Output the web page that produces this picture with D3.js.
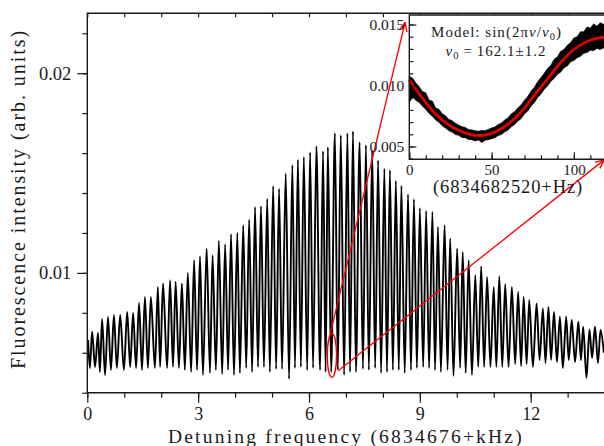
<!DOCTYPE html>
<html>
<head>
<meta charset="utf-8">
<script src="https://cdn.jsdelivr.net/npm/d3@7"></script>
<style>
  body { margin: 0; background: #fff; }
  text { font-family: "Liberation Serif", "DejaVu Serif", serif; fill: #1a1a1a; }
</style>
</head>
<body>
<svg id="chart" width="604" height="446"></svg>
<script>
// ---- main trace: fringe maxima and minima ----
var peakKHz = [0.02,0.13,0.29,0.40,0.56,0.72,0.89,1.08,1.24,1.40,
  1.56,1.72,1.91,2.05,2.24,2.39,2.56,2.72,2.89,3.05,
  3.23,3.39,3.56,3.73,3.89,4.06,4.22,4.38,4.54,4.70,
  4.87,5.03,5.19,5.37,5.55,5.70,5.86,6.03,6.20,6.38,
  6.51,6.70,6.86,7.04,7.19,7.37,7.54,7.71,7.87,8.04,
  8.19,8.35,8.50,8.68,8.84,9.00,9.17,9.34,9.49,9.67,
  9.82,10.01,10.16,10.32,10.50,10.66,10.82,11.00,11.15,11.31,
  11.49,11.66,11.81,11.96,12.16,12.33,12.48,12.63,12.79,12.96,
  13.11,13.29,13.42,13.59,13.74,13.89];
var peakVal = [0.00664,0.00705,0.00699,0.00769,0.00779,0.00789,0.00789,0.00805,0.00800,0.00849,
  0.00879,0.00879,0.00930,0.00947,0.00964,0.00956,0.00947,0.01000,0.01064,0.01084,
  0.01122,0.01089,0.01160,0.01144,0.01194,0.01200,0.01239,0.01267,0.01330,0.01334,
  0.01372,0.01434,0.01422,0.01497,0.01539,0.01567,0.01580,0.01604,0.01634,0.01610,
  0.01629,0.01700,0.01689,0.01699,0.01709,0.01655,0.01639,0.01614,0.01564,0.01522,
  0.01514,0.01460,0.01436,0.01394,0.01369,0.01324,0.01310,0.01305,0.01230,0.01239,
  0.01172,0.01122,0.01105,0.01064,0.00989,0.01034,0.00980,0.00930,0.00984,0.00944,
  0.00930,0.00905,0.00880,0.00864,0.00847,0.00822,0.00830,0.00805,0.00780,0.00780,
  0.00764,0.00755,0.00730,0.00717,0.00730,0.00714];
var troughKHz = [0.07,0.21,0.34,0.48,0.64,0.80,0.99,1.16,1.32,1.48,
  1.64,1.83,1.97,2.16,2.32,2.48,2.64,2.81,2.97,3.13,
  3.32,3.48,3.65,3.81,3.97,4.13,4.30,4.46,4.62,4.78,
  4.94,5.11,5.27,5.46,5.62,5.78,5.95,6.11,6.30,6.45,
  6.60,6.78,6.95,7.11,7.27,7.46,7.62,7.79,7.95,8.11,
  8.27,8.43,8.59,8.76,8.92,9.09,9.25,9.41,9.57,9.75,
  9.91,10.09,10.24,10.41,10.58,10.74,10.91,11.07,11.23,11.40,
  11.58,11.74,11.89,12.06,12.24,12.40,12.55,12.71,12.87,13.03,
  13.20,13.36,13.51,13.66,13.82,13.98];
var troughVal = [0.00524,0.00529,0.00504,0.00489,0.00514,0.00524,0.00514,0.00529,0.00524,0.00514,
  0.00524,0.00524,0.00529,0.00524,0.00529,0.00524,0.00514,0.00504,0.00514,0.00489,
  0.00499,0.00514,0.00494,0.00514,0.00489,0.00499,0.00524,0.00504,0.00529,0.00529,
  0.00504,0.00519,0.00519,0.00469,0.00524,0.00529,0.00514,0.00524,0.00514,0.00504,
  0.00504,0.00514,0.00489,0.00504,0.00504,0.00519,0.00514,0.00524,0.00499,0.00504,
  0.00514,0.00514,0.00499,0.00514,0.00524,0.00529,0.00524,0.00514,0.00504,0.00514,
  0.00484,0.00524,0.00499,0.00489,0.00529,0.00529,0.00529,0.00529,0.00529,0.00529,
  0.00544,0.00534,0.00544,0.00529,0.00564,0.00549,0.00564,0.00554,0.00524,0.00564,
  0.00554,0.00564,0.00474,0.00574,0.00549,0.00600];

var xMajor = [0, 3, 6, 9, 12];
var yMajor = [0.01, 0.02];

// ---- inset: noisy scan (upper / lower edge of the black band) and the red fit ----
var insetHz = [0,2,4,6,8,10,12,14,16,18,20,22,24,26,28,30,32,34,36,38,40,42,44,46,48,50,52,54,56,58,
  60,62,64,66,68,70,72,74,76,78,80,82,84,86,88,90,92,94,96,98,100,102,104,106,108,110,112,114,116,118.3];
var insetUpper = [0.01075,0.01060,0.01020,0.00990,0.00950,0.00940,0.00880,0.00872,0.00815,0.00805,
  0.00768,0.00752,0.00722,0.00712,0.00690,0.00676,0.00662,0.00655,0.00640,0.00636,
  0.00630,0.00625,0.00632,0.00630,0.00640,0.00652,0.00660,0.00680,0.00692,0.00718,
  0.00735,0.00768,0.00785,0.00818,0.00842,0.00880,0.00910,0.00955,0.00985,0.01030,
  0.01065,0.01100,0.01140,0.01165,0.01215,0.01235,0.01280,0.01295,0.01330,0.01350,
  0.01390,0.01400,0.01440,0.01440,0.01480,0.01470,0.01505,0.01485,0.01515,0.01500];
var insetLower = [0.00860,0.00905,0.00878,0.00862,0.00830,0.00805,0.00772,0.00748,0.00718,0.00698,
  0.00670,0.00652,0.00630,0.00618,0.00598,0.00592,0.00574,0.00572,0.00558,0.00556,
  0.00546,0.00553,0.00532,0.00552,0.00555,0.00564,0.00572,0.00590,0.00598,0.00620,
  0.00636,0.00662,0.00680,0.00708,0.00730,0.00768,0.00792,0.00832,0.00860,0.00902,
  0.00930,0.00970,0.00995,0.01035,0.01058,0.01092,0.01110,0.01145,0.01160,0.01195,
  0.01205,0.01228,0.01240,0.01265,0.01270,0.01290,0.01285,0.01305,0.01295,0.01310];
var fitHz = [0,6.5,14.6,22.7,30.8,38.9,45,51,59.2,67.3,75.3,83.5,91.6,99.6,107.8,115.9,118.3];
var fitVal = [0.01045,0.00922,0.00785,0.00690,0.00627,0.00594,0.00592,0.00613,0.00676,0.00772,0.00908,0.01045,0.01182,0.01291,0.01359,0.01392,0.01395];
var insetXMajor = [0, 50, 100];
var insetYMajor = [0.005, 0.010, 0.015];

var svg = d3.select("#chart");
var ink = "#1a1a1a";
var red = "#ff0000";

// widen / narrow a text to a measured width with letter spacing
function spreadTo(t, w) {
  var n = t.node().getNumberOfChars();
  var cur = t.node().getComputedTextLength();
  t.attr("letter-spacing", ((w - cur) / n).toFixed(2));
}

// main scales
var plot = { left: 87.3, right: 604.6, top: 13.3, bottom: 392.7 };
var x = d3.scaleLinear().domain([0, 14]).range([plot.left, plot.right]);
var y = d3.scaleLinear().domain([0.004, 0.023]).range([plot.bottom, plot.top]);

// the trace
var pts = peakKHz.map(function (k, i) { return [k, peakVal[i]]; })
  .concat(troughKHz.map(function (k, i) { return [k, troughVal[i]]; }))
  .sort(function (a, b) { return a[0] - b[0]; });

svg.append("path")
  .datum(pts)
  .attr("fill", "none")
  .attr("stroke", "#000")
  .attr("stroke-width", 1.9)
  .attr("stroke-linejoin", "round")
  .attr("d", d3.line().x(function (d) { return x(d[0]); }).y(function (d) { return y(d[1]); }).curve(d3.curveMonotoneX));

function tidy(fs) {
  return function (g) {
    g.attr("font-size", fs).attr("font-family", null);
    g.select(".domain").remove();
    g.selectAll("line").attr("stroke", ink).attr("stroke-width", 1.2);
    g.selectAll("text").attr("fill", ink);
  };
}

// bottom axis: minor + major ticks
svg.append("g").attr("transform", "translate(0," + plot.bottom + ")")
  .call(d3.axisBottom(x).tickValues(d3.range(0, 15)).tickSize(5).tickFormat(""))
  .call(tidy(18));
svg.append("g").attr("transform", "translate(0," + plot.bottom + ")")
  .call(d3.axisBottom(x).tickValues(xMajor).tickSize(10).tickPadding(5).tickFormat(d3.format("d")))
  .call(tidy(18));
// top ticks (inward)
svg.append("g").attr("transform", "translate(0," + plot.top + ")")
  .call(d3.axisBottom(x).tickValues(d3.range(0, 15)).tickSize(4).tickFormat(""))
  .call(tidy(18));
// left axis
svg.append("g").attr("transform", "translate(" + plot.left + ",0)")
  .call(d3.axisLeft(y).tickValues(d3.range(0.004, 0.0231, 0.002)).tickSize(5).tickFormat(""))
  .call(tidy(18));
svg.append("g").attr("transform", "translate(" + plot.left + ",0)")
  .call(d3.axisLeft(y).tickValues(yMajor).tickSize(10).tickPadding(6).tickFormat(d3.format(".2f")))
  .call(tidy(18.5));

// frame
svg.append("path")
  .attr("d", "M" + plot.right + "," + plot.top + "H" + plot.left + "V" + plot.bottom + "H" + plot.right)
  .attr("fill", "none").attr("stroke", ink).attr("stroke-width", 1.4);

// axis titles
var xt = svg.append("text").attr("x", (plot.left + plot.right) / 2).attr("y", 442.5)
  .attr("text-anchor", "middle").attr("font-size", 19.5).text("Detuning frequency (6834676+kHz)");
spreadTo(xt, 356);
var yt = svg.append("text").attr("transform", "translate(25,199) rotate(-90)")
  .attr("text-anchor", "middle").attr("font-size", 20).text("Fluorescence intensity (arb. units)");
spreadTo(yt, 340);

// red marker ellipse and arrows
var ec = [6.62, 0.00587];
svg.append("ellipse")
  .attr("cx", x(ec[0])).attr("cy", y(ec[1]))
  .attr("rx", x(ec[0] + 0.127) - x(ec[0])).attr("ry", y(ec[1] - 0.0011) - y(ec[1]))
  .attr("fill", "none").attr("stroke", red).attr("stroke-width", 1.5);

svg.append("defs").append("marker")
  .attr("id", "arr").attr("viewBox", "0 0 10 10").attr("refX", 9).attr("refY", 5)
  .attr("markerWidth", 10).attr("markerHeight", 10).attr("markerUnits", "userSpaceOnUse")
  .attr("orient", "auto")
  .append("path").attr("d", "M0,1 L9,5 L0,9").attr("fill", "none").attr("stroke", red).attr("stroke-width", 1.4);

var arrows = [
  [[6.58, 0.00699], [8.60, 0.02254]],
  [[6.79, 0.00510], [13.99, 0.01566]]
];
svg.selectAll(".arrow").data(arrows).enter().append("line")
  .attr("x1", function (d) { return x(d[0][0]); }).attr("y1", function (d) { return y(d[0][1]); })
  .attr("x2", function (d) { return x(d[1][0]); }).attr("y2", function (d) { return y(d[1][1]); })
  .attr("stroke", red).attr("stroke-width", 1.3).attr("marker-end", "url(#arr)");

// ---- inset ----
var ins = { left: 409.3, right: 604, top: 15, bottom: 159.3 };
var xi = d3.scaleLinear().domain([0, 118.3]).range([ins.left, ins.right]);
var yi = d3.scaleLinear().domain([0.00395, 0.01578]).range([ins.bottom, ins.top]);

svg.append("rect").attr("x", ins.left).attr("y", ins.top)
  .attr("width", 210).attr("height", ins.bottom - ins.top).attr("fill", "#fff");

var band = insetHz.map(function (h, i) { return [h, insetUpper[i], insetLower[i]]; });
svg.append("path").datum(band)
  .attr("fill", "#000").attr("stroke", "#000").attr("stroke-width", 0.7)
  .attr("d", d3.area().x(function (d) { return xi(d[0]); })
    .y0(function (d) { return yi(d[2]); }).y1(function (d) { return yi(d[1]); }));

var fit = fitHz.map(function (h, i) { return [h, fitVal[i]]; });
svg.append("path").datum(fit)
  .attr("fill", "none").attr("stroke", "#e00000").attr("stroke-width", 2.8)
  .attr("d", d3.line().x(function (d) { return xi(d[0]); }).y(function (d) { return yi(d[1]); }).curve(d3.curveCatmullRom));

// inset ticks (inward) and labels (outside)
svg.append("g").attr("transform", "translate(0," + ins.bottom + ")")
  .call(d3.axisTop(xi).tickValues(d3.range(0, 119, 10)).tickSize(4).tickFormat(""))
  .call(tidy(15));
svg.append("g").attr("transform", "translate(0," + ins.bottom + ")")
  .call(d3.axisTop(xi).tickValues(insetXMajor).tickSize(7).tickFormat(""))
  .call(tidy(15));
svg.append("g").attr("transform", "translate(0," + ins.bottom + ")")
  .call(d3.axisBottom(xi).tickValues(insetXMajor).tickSize(0).tickPadding(5).tickFormat(d3.format("d")))
  .call(tidy(15));

svg.append("g").attr("transform", "translate(" + ins.left + ",0)")
  .call(d3.axisRight(yi).tickValues(d3.range(0.004, 0.0156, 0.001)).tickSize(4).tickFormat(""))
  .call(tidy(15));
svg.append("g").attr("transform", "translate(" + ins.left + ",0)")
  .call(d3.axisRight(yi).tickValues(insetYMajor).tickSize(7).tickFormat(""))
  .call(tidy(15));
svg.append("g").attr("transform", "translate(" + ins.left + ",0)")
  .call(d3.axisLeft(yi).tickValues(insetYMajor).tickSize(0).tickPadding(5).tickFormat(d3.format(".3f")))
  .call(tidy(15.5));

svg.append("path")
  .attr("d", "M" + (ins.right + 5) + "," + ins.top + "H" + ins.left + "V" + ins.bottom + "H" + (ins.right + 5))
  .attr("fill", "none").attr("stroke", ink).attr("stroke-width", 1.4);

var it = svg.append("text").attr("x", 508).attr("y", 193)
  .attr("text-anchor", "middle").attr("font-size", 18.5).text("(6834682520+Hz)");
spreadTo(it, 150);

// model annotation
var m1 = svg.append("text").attr("x", 496.5).attr("y", 37).attr("text-anchor", "middle")
  .attr("font-size", 15).attr("fill", "#333");
m1.append("tspan").text("Model: sin(2\u03c0");
m1.append("tspan").attr("font-style", "italic").text("v");
m1.append("tspan").text("/");
m1.append("tspan").attr("font-style", "italic").text("v");
m1.append("tspan").attr("font-size", 10.5).attr("dy", 3).text("0");
m1.append("tspan").attr("dy", -3).text(")");
spreadTo(m1, 131);
var m2 = svg.append("text").attr("x", 496).attr("y", 55.5).attr("text-anchor", "middle")
  .attr("font-size", 15).attr("fill", "#333");
m2.append("tspan").attr("font-style", "italic").text("v");
m2.append("tspan").attr("font-size", 10.5).attr("dy", 3).text("0");
m2.append("tspan").attr("dy", -3).text("\u2009=\u2009162.1\u00b11.2");
spreadTo(m2, 101);
</script>
</body>
</html>
